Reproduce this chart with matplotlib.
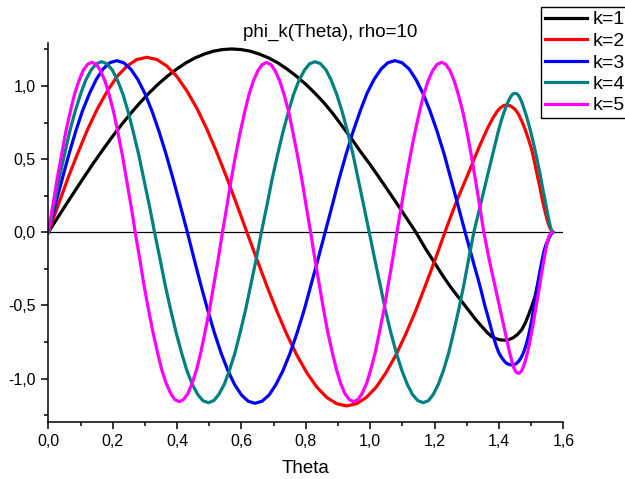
import matplotlib
matplotlib.use("Agg")
import matplotlib.pyplot as plt
from matplotlib.ticker import MultipleLocator, FuncFormatter

# values (Theta, phi_k)
theta_k1 = [0, 0.0285, 0.057, 0.0855, 0.114, 0.1425, 0.171, 0.1995, 0.228, 0.2565, 0.285,
            0.3135, 0.342, 0.3705, 0.399, 0.4275, 0.456, 0.4845, 0.513, 0.5415, 0.57,
            0.5986, 0.6272, 0.6558, 0.6844, 0.713, 0.7416, 0.7702, 0.7988, 0.8274, 0.856,
            0.8846, 0.9132, 0.9418, 0.9704, 0.999, 1.0276, 1.0562, 1.0848, 1.1134, 1.142,
            1.17, 1.201, 1.225, 1.25, 1.278, 1.305, 1.328, 1.35, 1.365, 1.377, 1.39,
            1.405, 1.419, 1.432, 1.445, 1.458, 1.471, 1.482, 1.492, 1.502, 1.512,
            1.520, 1.528, 1.536, 1.543, 1.550, 1.556, 1.562, 1.568]
phi_k1 = [0, 0.098, 0.196, 0.292, 0.387, 0.480, 0.569, 0.655, 0.737, 0.814, 0.886,
          0.953, 1.014, 1.068, 1.116, 1.158, 1.192, 1.218, 1.238, 1.249, 1.253,
          1.249, 1.238, 1.218, 1.192, 1.158, 1.116, 1.068, 1.014, 0.953, 0.886,
          0.81, 0.725, 0.64, 0.55, 0.465, 0.375, 0.283, 0.19, 0.095, 0,
          -0.105, -0.212, -0.295, -0.375, -0.455, -0.531, -0.597, -0.652, -0.688, -0.712, -0.727,
          -0.736, -0.738, -0.733, -0.72, -0.698, -0.665, -0.62, -0.565, -0.505, -0.44,
          -0.36, -0.28, -0.195, -0.121, -0.07, -0.035, -0.012, 0]

theta_k2 = [0, 0.031, 0.061, 0.092, 0.122, 0.153, 0.184, 0.214, 0.245, 0.275, 0.306,
            0.337, 0.368, 0.399, 0.430, 0.462, 0.493, 0.524, 0.555, 0.586, 0.617,
            0.648, 0.679, 0.710, 0.741, 0.772, 0.803, 0.834, 0.865, 0.896, 0.927,
            0.958, 0.988, 1.019, 1.049, 1.080, 1.110, 1.141, 1.171, 1.202, 1.232,
            1.251, 1.27, 1.288, 1.305, 1.321, 1.337, 1.352, 1.367, 1.381, 1.395,
            1.405, 1.415, 1.424, 1.432, 1.440, 1.450, 1.460, 1.471, 1.482, 1.492,
            1.502, 1.510, 1.518, 1.526, 1.533, 1.540, 1.548, 1.554, 1.560, 1.567]
phi_k2 = [0, 0.187, 0.370, 0.543, 0.703, 0.846, 0.968, 1.066, 1.137, 1.181, 1.196,
          1.181, 1.137, 1.066, 0.968, 0.846, 0.703, 0.543, 0.370, 0.187, 0,
          -0.186, -0.367, -0.539, -0.698, -0.839, -0.960, -1.058, -1.129, -1.172, -1.187,
          -1.172, -1.129, -1.058, -0.960, -0.839, -0.698, -0.539, -0.367, -0.186, 0,
          0.112, 0.22, 0.315, 0.403, 0.49, 0.575, 0.65, 0.722, 0.78, 0.828,
          0.852, 0.866, 0.870, 0.867, 0.858, 0.84, 0.81, 0.76, 0.70, 0.635,
          0.563, 0.485, 0.40, 0.32, 0.243, 0.17, 0.10, 0.055, 0.022, 0]

theta_k3 = [0, 0.021, 0.043, 0.064, 0.085, 0.106, 0.128, 0.149, 0.170, 0.191, 0.2125,
            0.234, 0.256, 0.278, 0.300, 0.322, 0.344, 0.366, 0.388, 0.410, 0.432,
            0.453, 0.474, 0.495, 0.516, 0.537, 0.558, 0.579, 0.600, 0.621, 0.642,
            0.664, 0.686, 0.707, 0.729, 0.751, 0.773, 0.795, 0.816, 0.838, 0.860,
            0.882, 0.903, 0.925, 0.947, 0.969, 0.990, 1.012, 1.034, 1.055, 1.077,
            1.099, 1.121, 1.142, 1.164, 1.186, 1.208, 1.230, 1.251, 1.273, 1.295,
            1.305, 1.315, 1.325, 1.336, 1.346, 1.356, 1.367, 1.377, 1.385, 1.392,
            1.400, 1.408, 1.417, 1.425, 1.435, 1.445, 1.454, 1.462, 1.469, 1.476,
            1.483, 1.490, 1.496, 1.502, 1.508, 1.515, 1.521, 1.528, 1.535, 1.541,
            1.547, 1.553, 1.558, 1.563, 1.568]
phi_k3 = [0, 0.183, 0.362, 0.533, 0.689, 0.829, 0.949, 1.045, 1.116, 1.159, 1.173,
          1.159, 1.116, 1.045, 0.949, 0.829, 0.689, 0.533, 0.362, 0.183, 0,
          -0.183, -0.361, -0.531, -0.687, -0.827, -0.946, -1.042, -1.112, -1.155, -1.169,
          -1.155, -1.112, -1.042, -0.946, -0.827, -0.687, -0.531, -0.361, -0.183, 0,
          0.183, 0.362, 0.533, 0.689, 0.829, 0.949, 1.045, 1.116, 1.159, 1.173,
          1.159, 1.116, 1.045, 0.949, 0.829, 0.689, 0.533, 0.362, 0.183, 0,
          -0.08, -0.16, -0.24, -0.326, -0.41, -0.50, -0.585, -0.668, -0.73, -0.78,
          -0.825, -0.855, -0.882, -0.898, -0.906, -0.907, -0.898, -0.88, -0.856, -0.825,
          -0.78, -0.725, -0.665, -0.6, -0.52, -0.43, -0.345, -0.258, -0.18, -0.12,
          -0.08, -0.05, -0.025, -0.008, 0]

theta_k4 = [0, 0.017, 0.033, 0.050, 0.066, 0.083, 0.100, 0.116, 0.133, 0.149, 0.166,
            0.182, 0.199, 0.215, 0.232, 0.248, 0.264, 0.281, 0.297, 0.314, 0.330,
            0.347, 0.363, 0.380, 0.397, 0.414, 0.430, 0.447, 0.464, 0.480, 0.497,
            0.514, 0.530, 0.547, 0.563, 0.580, 0.596, 0.613, 0.629, 0.646, 0.662,
            0.679, 0.695, 0.712, 0.729, 0.746, 0.762, 0.779, 0.796, 0.812, 0.829,
            0.846, 0.863, 0.879, 0.896, 0.913, 0.930, 0.947, 0.963, 0.980, 0.997,
            1.014, 1.031, 1.047, 1.064, 1.081, 1.098, 1.115, 1.131, 1.148, 1.165,
            1.181, 1.196, 1.212, 1.228, 1.244, 1.259, 1.275, 1.291, 1.306, 1.322,
            1.333, 1.345, 1.356, 1.367, 1.378, 1.388, 1.398, 1.408, 1.418, 1.428,
            1.436, 1.443, 1.450, 1.457, 1.464, 1.471, 1.478, 1.486, 1.493, 1.500,
            1.506, 1.512, 1.520, 1.528, 1.536, 1.543, 1.549, 1.555, 1.560, 1.564, 1.568]
phi_k4 = [0, 0.182, 0.360, 0.529, 0.685, 0.824, 0.943, 1.039, 1.109, 1.152, 1.166,
          1.152, 1.109, 1.039, 0.943, 0.824, 0.685, 0.529, 0.360, 0.182, 0,
          -0.182, -0.360, -0.529, -0.685, -0.824, -0.942, -1.038, -1.108, -1.151, -1.165,
          -1.151, -1.108, -1.038, -0.942, -0.824, -0.685, -0.529, -0.360, -0.182, 0,
          0.182, 0.360, 0.529, 0.685, 0.824, 0.943, 1.039, 1.109, 1.152, 1.166,
          1.152, 1.109, 1.039, 0.943, 0.824, 0.685, 0.529, 0.360, 0.182, 0,
          -0.182, -0.360, -0.529, -0.685, -0.824, -0.942, -1.038, -1.108, -1.151, -1.165,
          -1.151, -1.108, -1.038, -0.942, -0.824, -0.685, -0.529, -0.360, -0.182, 0,
          0.10, 0.21, 0.31, 0.41, 0.51, 0.60, 0.69, 0.768, 0.835, 0.89,
          0.925, 0.945, 0.950, 0.945, 0.925, 0.89, 0.845, 0.790, 0.735, 0.675,
          0.62, 0.563, 0.48, 0.395, 0.30, 0.221, 0.15, 0.085, 0.035, 0.01, 0]

theta_k5 = [0, 0.014, 0.027, 0.041, 0.054, 0.068, 0.081, 0.095, 0.108, 0.122, 0.135,
            0.149, 0.162, 0.176, 0.189, 0.203, 0.216, 0.230, 0.243, 0.257, 0.270,
            0.284, 0.297, 0.311, 0.325, 0.339, 0.352, 0.366, 0.380, 0.393, 0.407,
            0.420, 0.434, 0.447, 0.461, 0.474, 0.487, 0.501, 0.514, 0.528, 0.541,
            0.555, 0.568, 0.582, 0.596, 0.610, 0.623, 0.637, 0.651, 0.664, 0.678,
            0.692, 0.705, 0.719, 0.733, 0.747, 0.760, 0.774, 0.788, 0.801, 0.815,
            0.828, 0.842, 0.855, 0.868, 0.882, 0.895, 0.908, 0.921, 0.935, 0.948,
            0.962, 0.975, 0.989, 1.002, 1.016, 1.029, 1.043, 1.056, 1.070, 1.083,
            1.097, 1.111, 1.125, 1.139, 1.153, 1.166, 1.180, 1.194, 1.208, 1.222,
            1.235, 1.248, 1.261, 1.274, 1.288, 1.301, 1.314, 1.327, 1.340, 1.353,
            1.362, 1.370, 1.379, 1.388, 1.396, 1.404, 1.412, 1.419, 1.426, 1.433,
            1.440, 1.446, 1.452, 1.458, 1.464, 1.470, 1.476, 1.482, 1.488, 1.494,
            1.500, 1.506, 1.512, 1.518, 1.525, 1.531, 1.538, 1.544, 1.550, 1.555,
            1.560, 1.566]
phi_k5 = [0, 0.182, 0.359, 0.528, 0.683, 0.822, 0.940, 1.035, 1.105, 1.148, 1.162,
          1.148, 1.105, 1.035, 0.940, 0.822, 0.683, 0.528, 0.359, 0.182, 0,
          -0.181, -0.358, -0.526, -0.681, -0.819, -0.937, -1.032, -1.101, -1.144, -1.158,
          -1.144, -1.101, -1.032, -0.937, -0.819, -0.681, -0.526, -0.358, -0.181, 0,
          0.181, 0.358, 0.527, 0.682, 0.820, 0.938, 1.034, 1.103, 1.146, 1.160,
          1.146, 1.103, 1.034, 0.938, 0.820, 0.682, 0.527, 0.358, 0.181, 0,
          -0.181, -0.358, -0.526, -0.681, -0.819, -0.937, -1.032, -1.101, -1.144, -1.158,
          -1.144, -1.101, -1.032, -0.937, -0.819, -0.681, -0.526, -0.358, -0.181, 0,
          0.182, 0.359, 0.528, 0.683, 0.822, 0.940, 1.035, 1.105, 1.148, 1.162,
          1.148, 1.105, 1.035, 0.940, 0.822, 0.683, 0.528, 0.359, 0.182, 0,
          -0.10, -0.19, -0.28, -0.37, -0.45, -0.53, -0.61, -0.68, -0.75, -0.82,
          -0.88, -0.925, -0.952, -0.963, -0.962, -0.948, -0.92, -0.88, -0.83, -0.77,
          -0.70, -0.63, -0.554, -0.475, -0.385, -0.30, -0.212, -0.135, -0.07, -0.03,
          -0.01, 0]

labels = ["k=1", "k=2", "k=3", "k=4", "k=5"]
colors = ["black", "#ff0000", "#0000ff", "#008080", "#ff00ff"]

plt.rcParams['font.family'] = ['Liberation Sans', 'DejaVu Sans']

fig = plt.figure(figsize=(6.25, 4.79), dpi=100)
ax = fig.add_axes([0.0773, 0.1196, 0.8240, 0.7913])

ax.axhline(0, color="black", lw=0.9, zorder=1)

curves = [(theta_k1, phi_k1), (theta_k2, phi_k2), (theta_k3, phi_k3),
          (theta_k4, phi_k4), (theta_k5, phi_k5)]
lines = []
for (t, p), c, lab in zip(curves, colors, labels):
    l, = ax.plot(t, p, color=c, lw=2.3, label=lab, zorder=2,
                 solid_joinstyle='round')
    lines.append(l)

ax.set_xlim(0, 1.6)
ax.set_ylim(-1.295, 1.296)

ax.spines['top'].set_visible(False)
ax.spines['right'].set_visible(False)
ax.spines['left'].set_linewidth(1.1)
ax.spines['bottom'].set_linewidth(1.1)

comma = FuncFormatter(lambda v, pos: ("%.1f" % v).replace('.', ','))
ax.xaxis.set_major_locator(MultipleLocator(0.2))
ax.xaxis.set_minor_locator(MultipleLocator(0.1))
ax.yaxis.set_major_locator(MultipleLocator(0.5))
ax.yaxis.set_minor_locator(MultipleLocator(0.25))
ax.xaxis.set_major_formatter(comma)
ax.yaxis.set_major_formatter(comma)
ax.tick_params(which='major', direction='out', length=5, width=1.1, labelsize=11.5, pad=4)
ax.tick_params(which='minor', direction='out', length=3, width=1.1)

ax.set_xlabel("Theta", fontsize=13.5, labelpad=8)
fig.text(330 / 625, 1 - 36.5 / 479, "phi_k(Theta), rho=10", fontsize=13.5,
         ha='center', va='baseline')

leg = fig.legend(handles=lines, loc='upper left',
                 bbox_to_anchor=(541 / 625, 1 - 7 / 479),
                 fontsize=14, frameon=True, fancybox=False, framealpha=1,
                 edgecolor='black', borderpad=0.2, handlelength=2.15,
                 handletextpad=0.3, labelspacing=0.2, borderaxespad=0)
leg.get_frame().set_linewidth(1.0)

fig.savefig("out.png", dpi=100)
